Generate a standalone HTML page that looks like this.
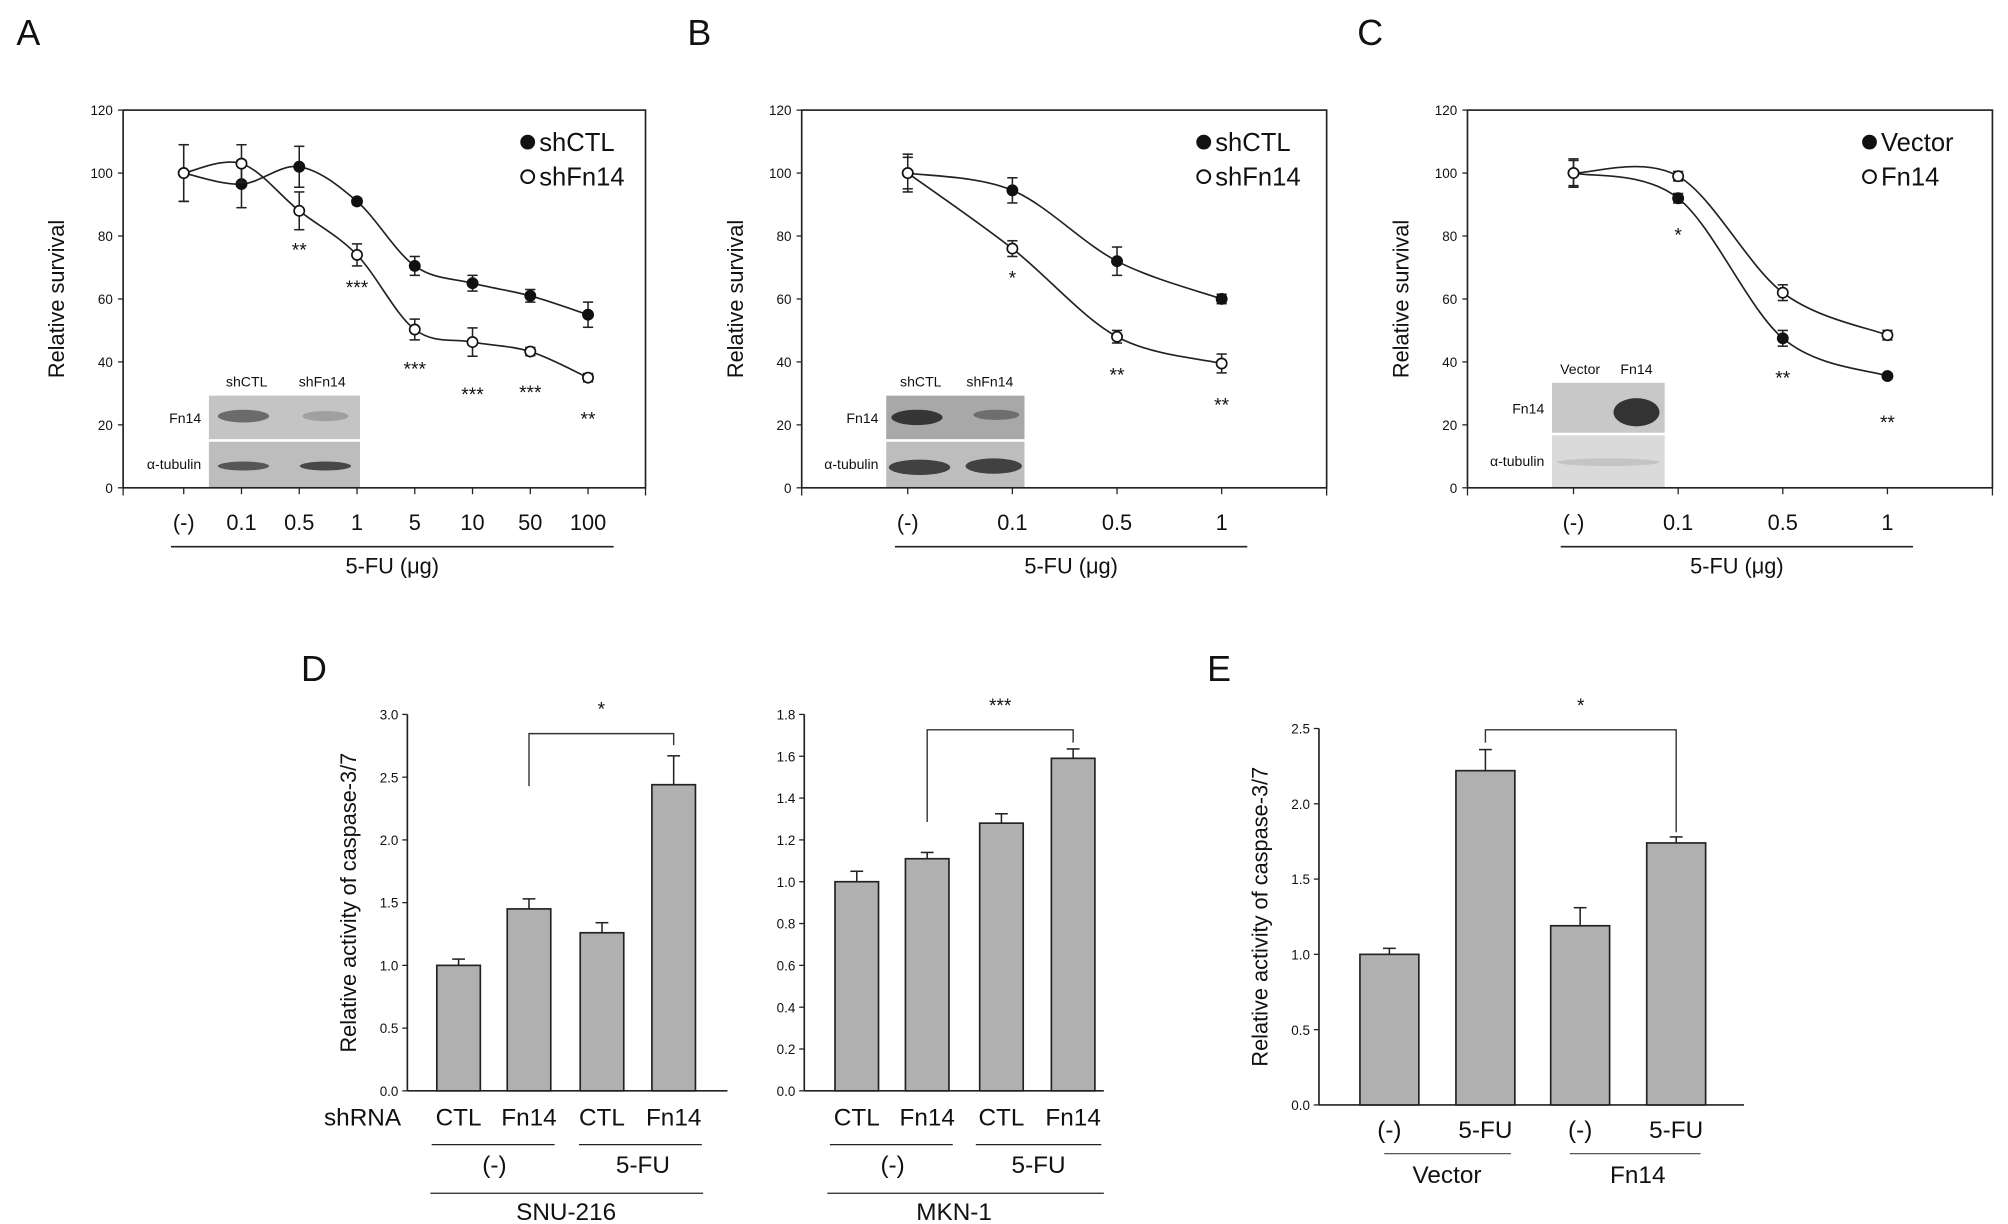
<!DOCTYPE html>
<html><head><meta charset="utf-8"><style>
html,body{margin:0;padding:0;background:#fff;}
svg{display:block;font-family:"Liberation Sans",sans-serif;}
</style></head><body>
<svg id="fig" width="2008" height="1224" viewBox="0 0 1568 956" xmlns="http://www.w3.org/2000/svg">
<g id="root"></g>
</svg>
<script>
// ---- Panel A data ----
const catsA = ["(-)","0.1","0.5","1","5","10","50","100"];
const ctlA = [100,96.5,102,91,70.5,65,61,55];
const ctlAErr = [9,7.5,6.5,1,3,2.5,2,4];
const fnA = [100,103,88,74,50.3,46.3,43.3,35];
const fnAErr = [9,6,6,3.5,3.3,4.5,1.3,1.3];
const starsA = ["","","**","***","***","***","***","**"];
// ---- Panel B data ----
const catsB = ["(-)","0.1","0.5","1"];
const ctlB = [100,94.5,72,60];
const ctlBErr = [6,4,4.5,1.5];
const fnB = [100,76,48,39.5];
const fnBErr = [5,2.5,2,3];
const starsB = ["","*","**","**"];
// ---- Panel C data ----
const catsC = ["(-)","0.1","0.5","1"];
const vecC = [100,92,47.5,35.5];
const vecCErr = [4.5,1.5,2.5,0.5];
const fnC = [100,99,62,48.5];
const fnCErr = [4,1.5,2.5,1.5];
const starsC = ["","*","**","**"];
const survTicks = [0,20,40,60,80,100,120];
// ---- Panel D / E data ----
const catsD = ["CTL","Fn14","CTL","Fn14"];
const snuVals = [1.0,1.45,1.26,2.44];
const snuErr = [0.05,0.08,0.08,0.23];
const snuTicks = ["0.0","0.5","1.0","1.5","2.0","2.5","3.0"];
const mknVals = [1.0,1.11,1.28,1.59];
const mknErr = [0.05,0.03,0.045,0.045];
const mknTicks = ["0.0","0.2","0.4","0.6","0.8","1.0","1.2","1.4","1.6","1.8"];
const catsE = ["(-)","5-FU","(-)","5-FU"];
const eVals = [1.0,2.22,1.19,1.74];
const eErr = [0.04,0.14,0.12,0.04];
const eTicks = ["0.0","0.5","1.0","1.5","2.0","2.5"];

const NS="http://www.w3.org/2000/svg";
const root=document.getElementById('root');
function el(tag,attrs,parent,text){const e=document.createElementNS(NS,tag);for(const k in attrs)e.setAttribute(k,attrs[k]);if(text!==undefined)e.textContent=text;(parent||root).appendChild(e);return e;}
function txt(x,y,s,size,parent,anchor,extra){const t=el('text',Object.assign({x:x,y:y,'font-size':size,'text-anchor':anchor||'middle',fill:'#111'},extra||{}),parent,s);return t;}
function spline(pts){let d='M'+pts[0][0]+','+pts[0][1];for(let i=0;i<pts.length-1;i++){const p0=pts[Math.max(0,i-1)],p1=pts[i],p2=pts[i+1],p3=pts[Math.min(pts.length-1,i+2)];const c1x=p1[0]+(p2[0]-p0[0])/6,c1y=p1[1]+(p2[1]-p0[1])/6,c2x=p2[0]-(p3[0]-p1[0])/6,c2y=p2[1]-(p3[1]-p1[1])/6;d+=' C'+c1x+','+c1y+' '+c2x+','+c2y+' '+p2[0]+','+p2[1];}return d;}

function letter(x,y,s){const t=txt(x,y,s,28,root,'middle');}

function linePanel(opt){
  const g=el('g',{});
  
  
  const L=opt.left,R=opt.right,T=86,B=381;
  const n=opt.cats.length;
  const fx=i=>L+(opt.f0+(opt.f1-opt.f0)*i/(n-1))*(R-L);
  const fy=v=>B-(v/120)*(B-T);
  const bl=el('g',{},g);
  
  
  const bx=opt.blot;
  el('rect',{x:bx.x,y:bx.y1,width:bx.w,height:bx.mid-bx.y1-1,fill:bx.c1},bl);
  el('rect',{x:bx.x,y:bx.mid+1,width:bx.w,height:B-bx.mid-1,fill:bx.c2},bl);
  bx.bands.forEach(b=>el('ellipse',{cx:b[0],cy:b[1],rx:b[2],ry:b[3],fill:b[4],opacity:b[5]},bl));
  txt(bx.x-6,(bx.y1+bx.mid)/2+4,'Fn14',11,bl,'end');
  txt(bx.x-6,(bx.mid+B)/2+4,'α-tubulin',11,bl,'end');
  txt(bx.x+bx.w*0.25,bx.y1-7,bx.l1,11,bl);
  txt(bx.x+bx.w*0.75,bx.y1-7,bx.l2,11,bl);
  const fr=el('rect',{x:L,y:T,width:R-L,height:B-T,fill:'none',stroke:'#222','stroke-width':1.3},g);
  
  
  survTicks.forEach(v=>{el('line',{x1:L-4,x2:L,y1:fy(v),y2:fy(v),stroke:'#222'},g);const t=txt(L-8,fy(v)+4,String(v),10.5,g,'end');});
  [L,R].forEach(x=>el('line',{x1:x,x2:x,y1:B,y2:B+6,stroke:'#222'},g));
  opt.cats.forEach((c,i)=>{el('line',{x1:fx(i),x2:fx(i),y1:B,y2:B+5,stroke:'#222'},g);const t=txt(fx(i),414,c,17,g);});
  el('line',{x1:fx(0)-10,x2:fx(n-1)+20,y1:427,y2:427,stroke:'#222','stroke-width':1.2},g);
  const xt=txt((fx(0)+fx(n-1))/2+5,448,'5-FU (μg)',17,g);
  
  const yt=txt(0,0,'Relative survival',17,g,'middle',{transform:'translate('+(L-46)+','+((T+B)/2)+') rotate(-90)'});
  
  opt.series.forEach((s,si)=>{
    const sg=el('g',{},g);
    
    
    const pts=s.vals.map((v,i)=>[fx(i),fy(v)]);
    el('path',{d:spline(pts),fill:'none',stroke:'#222','stroke-width':1.3},sg);
    s.vals.forEach((v,i)=>{const x=fx(i);const y1=fy(v+s.err[i]),y2=fy(v-s.err[i]);el('line',{x1:x,x2:x,y1:y1,y2:y2,stroke:'#222','stroke-width':1.2},sg);el('line',{x1:x-4,x2:x+4,y1:y1,y2:y1,stroke:'#222','stroke-width':1.2},sg);el('line',{x1:x-4,x2:x+4,y1:y2,y2:y2,stroke:'#222','stroke-width':1.2},sg);});
    s.vals.forEach((v,i)=>{const c=el('circle',{cx:fx(i),cy:fy(v),r:4,fill:s.filled?'#111':'#fff',stroke:'#111','stroke-width':1.3},sg);});
    const lg=el('g',{},g);
    
    
    const ly=118+si*27;
    el('circle',{cx:opt.legX,cy:ly-7,r:5,fill:s.filled?'#111':'#fff',stroke:'#111','stroke-width':1.6},lg);
    txt(opt.legX+9,ly,s.label,20,lg,'start');
  });
  opt.stars.forEach((s,i)=>{if(!s)return;const low=Math.min(...opt.series.map(se=>se.vals[i]-se.err[i]));const t=txt(fx(i),fy(low)+22+(opt.starExtra?opt.starExtra[i]:0),s,15,g);});
}

letter(22,35,'A');letter(546,35,'B');letter(1070,35,'C');letter(245,532,'D');letter(952,532,'E');

linePanel({name:'panel-a-survival-chart',left:96,right:504,f0:0.116,f1:0.89,cats:catsA,legX:412,
  series:[{label:'shCTL',vals:ctlA,err:ctlAErr,filled:true},{label:'shFn14',vals:fnA,err:fnAErr,filled:false}],
  stars:starsA,starExtra:[0,0,-1,0,6,13,12,12],
  blot:{x:163,w:118,y1:309,mid:344,c1:'#c4c4c4',c2:'#bdbdbd',l1:'shCTL',l2:'shFn14',bands:[[190,325,20,5,'#555',0.8],[254,325,18,4,'#888',0.6],[190,364,20,3.5,'#444',0.85],[254,364,20,3.5,'#333',0.85]]}});
linePanel({name:'panel-b-survival-chart',left:626,right:1036,f0:0.202,f1:0.80,cats:catsB,legX:940,
  series:[{label:'shCTL',vals:ctlB,err:ctlBErr,filled:true},{label:'shFn14',vals:fnB,err:fnBErr,filled:false}],
  stars:starsB,starExtra:[0,0,8,8],
  blot:{x:692,w:108,y1:309,mid:344,c1:'#a8a8a8',c2:'#bdbdbd',l1:'shCTL',l2:'shFn14',bands:[[716,326,20,6,'#222',0.85],[778,324,18,4,'#555',0.7],[718,365,24,6,'#333',0.9],[776,364,22,6,'#333',0.9]]}});
linePanel({name:'panel-c-survival-chart',left:1146,right:1556,f0:0.202,f1:0.80,cats:catsC,legX:1460,
  series:[{label:'Vector',vals:vecC,err:vecCErr,filled:true},{label:'Fn14',vals:fnC,err:fnCErr,filled:false}],
  stars:starsC,starExtra:[0,8,8,18],
  blot:{x:1212,w:88,y1:299,mid:339,c1:'#c8c8c8',c2:'#dadada',l1:'Vector',l2:'Fn14',bands:[[1278,322,18,11,'#222',0.9],[1256,361,40,3,'#bbb',0.7]]}});

function barPanel(o){
  const g=el('g',{});
  
  
  const fy=v=>o.B-(v/o.max)*(o.B-o.T);
  el('line',{x1:o.L,x2:o.L,y1:o.T,y2:o.B,stroke:'#222','stroke-width':1.3},g);
  el('line',{x1:o.L,x2:o.R,y1:o.B,y2:o.B,stroke:'#222','stroke-width':1.3},g);
  o.ticks.forEach(t=>{const v=parseFloat(t);el('line',{x1:o.L-4,x2:o.L,y1:fy(v),y2:fy(v),stroke:'#222'},g);const tt=txt(o.L-7,fy(v)+4,t,10.5,g,'end');});
  if(o.ytitle){const yt=txt(0,0,'Relative activity of caspase-3/7',17,g,'middle',{transform:'translate('+(o.L-40)+','+((o.T+o.B)/2)+') rotate(-90)'});}
  o.vals.forEach((v,i)=>{const x=o.cx[i];const r=el('rect',{x:x-o.w/2,y:fy(v),width:o.w,height:o.B-fy(v),fill:'#b0b0b0',stroke:'#222','stroke-width':1.3},g);
    const ye=fy(v+o.err[i]);el('line',{x1:x,x2:x,y1:fy(v),y2:ye,stroke:'#222','stroke-width':1.2},g);el('line',{x1:x-5,x2:x+5,y1:ye,y2:ye,stroke:'#222','stroke-width':1.2},g);
    const t=txt(x,o.labY,o.cats[i],o.catSize,g);});
  const b=o.br;const bg=el('g',{},g);
  
  
  el('polyline',{points:o.cx[b.i]+','+b.yl+' '+o.cx[b.i]+','+b.y+' '+o.cx[b.j]+','+b.y+' '+o.cx[b.j]+','+b.yr,fill:'none',stroke:'#333','stroke-width':1.1},bg);
  txt((o.cx[b.i]+o.cx[b.j])/2,b.y-14,b.s,15,bg);
  o.extra(g);
}
barPanel({name:'panel-d-snu216-bar-chart',L:318,R:568,T:558,B:852,max:3.0,ticks:snuTicks,ytitle:true,vals:snuVals,err:snuErr,cats:catsD,cx:[358,413,470,526],w:34,labY:879,catSize:19,
  br:{i:1,j:3,y:573,yl:614,yr:582,s:'*'},
  extra:g=>{txt(283,879,'shRNA',19,g);el('line',{x1:337,x2:433,y1:894,y2:894,stroke:'#222'},g);el('line',{x1:452,x2:548,y1:894,y2:894,stroke:'#222'},g);txt(386,916,'(-)',19,g);txt(502,916,'5-FU',19,g);el('line',{x1:336,x2:549,y1:932,y2:932,stroke:'#222'},g);txt(442,953,'SNU-216',19,g);}});
barPanel({name:'panel-d-mkn1-bar-chart',L:628,R:862,T:558,B:852,max:1.8,ticks:mknTicks,ytitle:false,vals:mknVals,err:mknErr,cats:catsD,cx:[669,724,782,838],w:34,labY:879,catSize:19,
  br:{i:1,j:3,y:570,yl:642,yr:580,s:'***'},
  extra:g=>{el('line',{x1:648,x2:744,y1:894,y2:894,stroke:'#222'},g);el('line',{x1:762,x2:860,y1:894,y2:894,stroke:'#222'},g);txt(697,916,'(-)',19,g);txt(811,916,'5-FU',19,g);el('line',{x1:646,x2:862,y1:932,y2:932,stroke:'#222'},g);txt(745,953,'MKN-1',19,g);}});
barPanel({name:'panel-e-bar-chart',L:1030,R:1362,T:569,B:863,max:2.5,ticks:eTicks,ytitle:true,vals:eVals,err:eErr,cats:catsE,cx:[1085,1160,1234,1309],w:46,labY:889,catSize:19,
  br:{i:1,j:3,y:570,yl:580,yr:650,s:'*'},
  extra:g=>{el('line',{x1:1081,x2:1180,y1:901,y2:901,stroke:'#555'},g);el('line',{x1:1226,x2:1328,y1:901,y2:901,stroke:'#555'},g);txt(1130,924,'Vector',19,g);txt(1279,924,'Fn14',19,g);}});
</script>
</body></html>
